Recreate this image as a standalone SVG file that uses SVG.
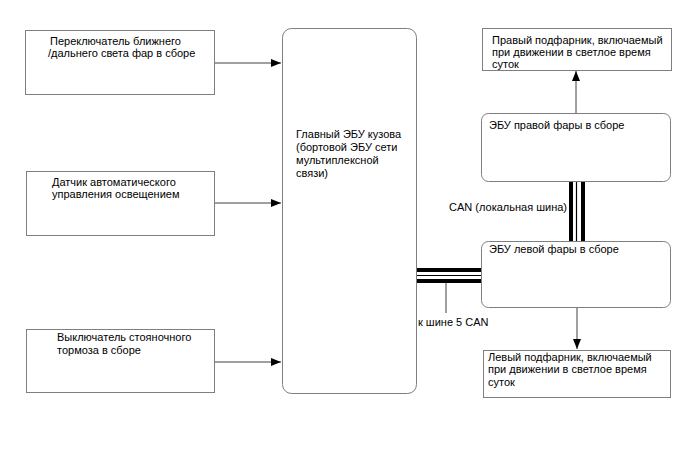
<svg xmlns="http://www.w3.org/2000/svg" width="688" height="463" viewBox="0 0 688 463">
<defs>
<style>
text{font-family:"Liberation Sans",Arial,sans-serif;font-size:11px;fill:#000}
.box{fill:#fff;stroke:#7f7f7f;stroke-width:1}
.ln{stroke:#404040;stroke-width:1;fill:none}
.bus{stroke:#000;fill:none}
</style>
<marker id="ah" viewBox="0 0 10 8" refX="10" refY="4" markerWidth="10" markerHeight="8" markerUnits="userSpaceOnUse" orient="auto">
<path d="M0,0 L10,4 L0,8 Z" fill="#000"/>
</marker>
</defs>
<rect width="688" height="463" fill="#fff"/>
<g id="connectors">
<line class="ln" x1="215" y1="63" x2="281" y2="63" marker-end="url(#ah)"/>
<line class="ln" x1="215" y1="203" x2="281" y2="203" marker-end="url(#ah)"/>
<line class="ln" x1="215" y1="362" x2="281" y2="362" marker-end="url(#ah)"/>
<line class="ln" x1="576" y1="113" x2="576" y2="71" marker-end="url(#ah)"/>
<line class="ln" x1="577" y1="307" x2="577" y2="349" marker-end="url(#ah)"/>
<g id="can-local">
<line class="bus" x1="571" y1="181" x2="571" y2="242" stroke-width="4"/>
<line class="bus" x1="576.5" y1="181" x2="576.5" y2="242" stroke-width="1.2"/>
<line class="bus" x1="583" y1="181" x2="583" y2="242" stroke-width="4"/>
</g>
<g id="can5">
<line class="bus" x1="416" y1="270" x2="481" y2="270" stroke-width="4"/>
<line class="bus" x1="416" y1="275.5" x2="481" y2="275.5" stroke-width="1.2"/>
<line class="bus" x1="416" y1="281" x2="481" y2="281" stroke-width="4"/>
<line class="ln" x1="446" y1="283" x2="446" y2="313" stroke="#666" stroke-width="1.5"/>
</g>
<text x="567" y="211" text-anchor="end">CAN (локальная шина)</text>
<text x="418" y="326">к шине 5 CAN</text>
</g>
<g id="headlight-switch">
<rect class="box" x="25.5" y="30.5" width="189" height="64"/>
<text x="50" y="45">Переключатель ближнего</text>
<text x="48" y="57">/дальнего света фар в сборе</text>
</g>
<g id="light-sensor">
<rect class="box" x="26.5" y="171.5" width="188" height="64"/>
<text x="52" y="186">Датчик автоматического</text>
<text x="52" y="198">управления освещением</text>
</g>
<g id="parking-brake">
<rect class="box" x="26.5" y="329.5" width="188" height="63"/>
<text x="57" y="341">Выключатель стояночного</text>
<text x="57" y="354">тормоза в сборе</text>
</g>
<g id="main-ecu">
<rect class="box" x="282.5" y="28.5" width="134" height="365" rx="9" ry="9" stroke="#404040"/>
<text x="296" y="138">Главный ЭБУ кузова</text>
<text x="296" y="151">(бортовой ЭБУ сети</text>
<text x="296" y="164">мультиплексной</text>
<text x="296" y="177">связи)</text>
</g>
<g id="right-drl">
<rect class="box" x="482.5" y="28.5" width="189" height="42"/>
<text x="492" y="44">Правый подфарник, включаемый</text>
<text x="492" y="56">при движении в светлое время</text>
<text x="492" y="68">суток</text>
</g>
<g id="right-ecu">
<rect class="box" x="481.5" y="113.5" width="189" height="68" rx="7" ry="7"/>
<text x="489" y="129">ЭБУ правой фары в сборе</text>
</g>
<g id="left-ecu">
<rect class="box" x="481.5" y="241.5" width="189" height="66" rx="7" ry="7"/>
<text x="489" y="253">ЭБУ левой фары в сборе</text>
</g>
<g id="left-drl">
<rect class="box" x="483.5" y="350.5" width="187" height="47"/>
<text x="488" y="361">Левый подфарник, включаемый</text>
<text x="488" y="373">при движении в светлое время</text>
<text x="488" y="386">суток</text>
</g>
</svg>
